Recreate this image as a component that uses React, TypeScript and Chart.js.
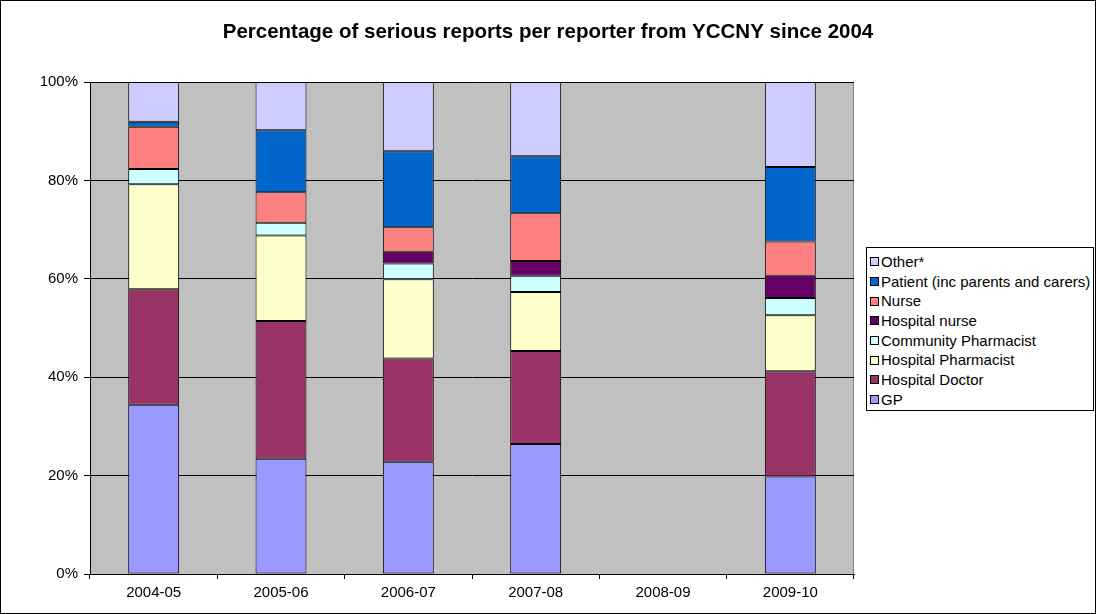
import React, { useEffect, useRef } from "react";
import { Chart, registerables } from "chart.js";

Chart.register(...registerables);

const categories = ["2004-05", "2005-06", "2006-07", "2007-08", "2008-09", "2009-10"];
const gp = [34.4, 23.4, 22.8, 26.4, null, 19.8];
const hospitalDoctor = [23.5, 28.0, 21.0, 18.9, null, 21.4];
const hospitalPharmacist = [21.3, 17.4, 16.1, 12.0, null, 11.4];
const communityPharmacist = [3.1, 2.6, 3.2, 3.3, null, 3.5];
const hospitalNurse = [0, 0, 2.4, 3.0, null, 4.5];
const nurse = [8.6, 6.2, 5.0, 9.7, null, 7.0];
const patient = [1.0, 12.6, 15.4, 11.6, null, 15.1];
const other = [8.1, 9.8, 14.1, 15.1, null, 17.3];
const yTicks = [0, 20, 40, 60, 80, 100];

const series = [
  { label: "GP", data: gp, color: "#9999FF" },
  { label: "Hospital Doctor", data: hospitalDoctor, color: "#993366" },
  { label: "Hospital Pharmacist", data: hospitalPharmacist, color: "#FFFFCC" },
  { label: "Community Pharmacist", data: communityPharmacist, color: "#CCFFFF" },
  { label: "Hospital nurse", data: hospitalNurse, color: "#660066" },
  { label: "Nurse", data: nurse, color: "#FF8080" },
  { label: "Patient (inc parents and carers)", data: patient, color: "#0066CC" },
  { label: "Other*", data: other, color: "#CCCCFF" },
];

const FONT = "'Liberation Sans', Arial, sans-serif";

const framePlugin = {
  id: "frame",
  beforeDraw(chart: any) {
    const { ctx, chartArea: a } = chart;
    ctx.save();
    ctx.fillStyle = "#FFFFFF";
    ctx.fillRect(0, 0, chart.width, chart.height);
    ctx.fillStyle = "#C0C0C0";
    ctx.fillRect(a.left, a.top, a.right - a.left, a.bottom - a.top);
    ctx.strokeStyle = "#808080";
    ctx.lineWidth = 1;
    ctx.beginPath();
    ctx.moveTo(a.left, a.top + 0.5);
    ctx.lineTo(a.right - 0.5, a.top + 0.5);
    ctx.lineTo(a.right - 0.5, a.bottom);
    ctx.stroke();
    ctx.restore();
  },
  afterDraw(chart: any) {
    const { ctx } = chart;
    ctx.save();
    ctx.strokeStyle = "#000000";
    ctx.lineWidth = 1;
    ctx.strokeRect(0.5, 0.5, chart.width - 1, chart.height - 1);
    ctx.restore();
  },
};

export default function App() {
  const ref = useRef<HTMLCanvasElement>(null);
  useEffect(() => {
    document.body.style.margin = "0";
    const chart = new Chart(ref.current as HTMLCanvasElement, {
      type: "bar",
      data: {
        labels: categories,
        datasets: series.map((s) => ({
          label: s.label,
          data: s.data as any,
          backgroundColor: s.color,
          borderColor: "#000000",
          borderWidth: 1,
          borderSkipped: false,
          categoryPercentage: 1,
          barPercentage: 0.4,
        })),
      },
      options: {
        animation: false,
        responsive: false,
        maintainAspectRatio: false,
        layout: { padding: 0 },
        plugins: {
          legend: { display: false },
          tooltip: { enabled: false },
          title: {
            display: true,
            text: "Percentage of serious reports per reporter from YCCNY since 2004",
            color: "#000000",
            font: { family: FONT, size: 20.5, weight: "bold", lineHeight: 1.2 },
            padding: { top: 20, bottom: 37.4 },
          },
        },
        scales: {
          x: {
            stacked: true,
            afterFit: (s: any) => {
              s.height = 40;
            },
            grid: {
              offset: true,
              drawOnChartArea: false,
              drawTicks: true,
              tickLength: 5,
              color: "#000000",
            },
            border: { display: true, color: "#000000", width: 1 },
            ticks: {
              color: "#000000",
              font: { family: FONT, size: 15 },
              padding: 5,
              maxRotation: 0,
            },
          },
          y: {
            stacked: true,
            min: 0,
            max: 100,
            afterFit: (s: any) => {
              s.width = 90;
            },
            afterBuildTicks: (s: any) => {
              s.ticks = yTicks.map((v) => ({ value: v }));
            },
            grid: {
              color: "#000000",
              drawTicks: true,
              tickLength: 6,
            },
            border: { display: true, color: "#000000", width: 1 },
            ticks: {
              color: "#000000",
              font: { family: FONT, size: 15 },
              padding: 6,
              callback: (v: any) => v + "%",
            },
          },
          legendSpace: {
            type: "linear",
            position: "right",
            display: true,
            min: 0,
            max: 1,
            afterFit: (s: any) => {
              s.width = 242;
            },
            grid: { display: false, drawTicks: false },
            border: { display: false },
            ticks: { display: false },
          },
        },
      },
      plugins: [framePlugin],
    });
    return () => chart.destroy();
  }, []);

  const legendItems = [...series].reverse();

  return (
    <div style={{ position: "relative", width: 1096, height: 614 }}>
      <canvas ref={ref} width={1096} height={614} style={{ display: "block" }} />
      <div
        style={{
          position: "absolute",
          left: 866,
          top: 247,
          width: 228,
          height: 164,
          boxSizing: "border-box",
          border: "1px solid #000",
          background: "#fff",
          paddingTop: 4,
          fontFamily: FONT,
          fontSize: 15,
          color: "#000",
        }}
      >
        {legendItems.map((s) => (
          <div
            key={s.label}
            style={{ height: 19.7, lineHeight: "19.7px", display: "flex", alignItems: "center", whiteSpace: "nowrap" }}
          >
            <span
              style={{
                display: "inline-block",
                width: 9,
                height: 9,
                boxSizing: "border-box",
                border: "1px solid #000",
                background: s.color,
                marginLeft: 3,
                marginRight: 2,
              }}
            />
            <span>{s.label}</span>
          </div>
        ))}
      </div>
    </div>
  );
}
